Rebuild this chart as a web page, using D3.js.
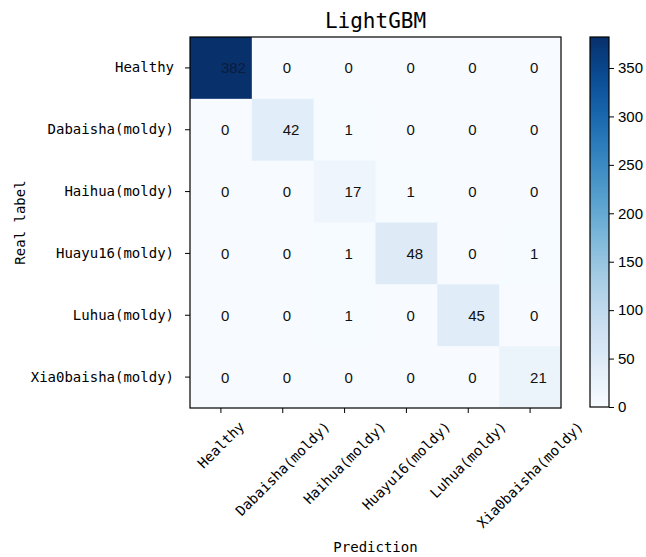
<!DOCTYPE html>
<html>
<head>
<meta charset="utf-8">
<script src="https://cdn.jsdelivr.net/npm/d3@7/dist/d3.min.js"></script>
<style>
  html, body { margin: 0; padding: 0; background: #fff; }
  svg { display: block; }
</style>
</head>
<body>
<svg id="chart" width="646" height="557"></svg>
<script>
// Confusion matrix of the LightGBM classifier
const title = "LightGBM";
const classes = ["Healthy", "Dabaisha(moldy)", "Haihua(moldy)", "Huayu16(moldy)", "Luhua(moldy)", "Xia0baisha(moldy)"];
// rows = real label, columns = prediction
const counts = [
  [382, 0, 0, 0, 0, 0],
  [0, 42, 1, 0, 0, 0],
  [0, 0, 17, 1, 0, 0],
  [0, 0, 1, 48, 0, 1],
  [0, 0, 1, 0, 45, 0],
  [0, 0, 0, 0, 0, 21]
];
const colorTicks = [0, 50, 100, 150, 200, 250, 300, 350];
const xTitle = "Prediction";
const yTitle = "Real label";

const monoFont = "'DejaVu Sans Mono', 'Liberation Mono', monospace";
const sansFont = "'Liberation Sans', Arial, sans-serif";

const svg = d3.select("#chart");
const plot = { left: 190, top: 37, size: 371 };
const bar = { left: 590, width: 19 };

const maxVal = d3.max(counts.flat());
const color = d3.scaleSequential(d3.interpolateBlues).domain([0, maxVal]);

const x = d3.scaleBand().domain(classes).range([plot.left, plot.left + plot.size]);
const y = d3.scaleBand().domain(classes).range([plot.top, plot.top + plot.size]);

// cells
const cells = [];
counts.forEach((row, i) => row.forEach((v, j) => cells.push({ r: classes[i], c: classes[j], v })));

svg.append("g").selectAll("rect").data(cells).join("rect")
  .attr("x", d => x(d.c))
  .attr("y", d => y(d.r))
  .attr("width", x.bandwidth() + 0.5)
  .attr("height", y.bandwidth() + 0.5)
  .attr("fill", d => color(d.v));

// counts, left-aligned at each cell centre
svg.append("g").selectAll("text").data(cells).join("text")
  .attr("x", d => x(d.c) + x.bandwidth() / 2)
  .attr("y", d => y(d.r) + y.bandwidth() / 2)
  .attr("text-anchor", "start")
  .attr("dominant-baseline", "central")
  .attr("font-family", sansFont)
  .attr("font-size", 15)
  .attr("fill", d => d.v > maxVal / 2 ? "#0b1c3d" : "#111")
  .text(d => d.v);

// frame
svg.append("rect")
  .attr("x", plot.left).attr("y", plot.top)
  .attr("width", plot.size).attr("height", plot.size)
  .attr("fill", "none").attr("stroke", "#000").attr("stroke-width", 1.2);

// y axis
const yAxis = svg.append("g")
  .attr("transform", `translate(${plot.left},0)`)
  .call(d3.axisLeft(y).tickSize(5).tickPadding(11));
yAxis.select(".domain").remove();
yAxis.selectAll("text").attr("font-family", monoFont).attr("font-size", 14).attr("fill", "#000");

// x axis with labels rotated 45 degrees, bounding box centred on each tick
const xAxis = svg.append("g")
  .attr("transform", `translate(0,${plot.top + plot.size})`)
  .call(d3.axisBottom(x).tickSize(5).tickFormat(""));
xAxis.select(".domain").remove();

const xl = svg.append("g").selectAll("text").data(classes).join("text")
  .attr("font-family", monoFont)
  .attr("font-size", 14)
  .attr("text-anchor", "middle")
  .attr("dominant-baseline", "central")
  .text(d => d);
xl.each(function (d) {
  const w = this.getComputedTextLength();
  const h = 11;
  const top = plot.top + plot.size + 5 + 7;
  const cy = top + (w + h) / (2 * Math.SQRT2);
  const cx = x(d) + x.bandwidth() / 2;
  d3.select(this).attr("transform", `translate(${cx},${cy}) rotate(-45)`);
});

// titles
svg.append("text")
  .attr("x", plot.left + plot.size / 2).attr("y", 28)
  .attr("text-anchor", "middle")
  .attr("font-family", monoFont).attr("font-size", 21)
  .text(title);

svg.append("text")
  .attr("x", plot.left + plot.size / 2).attr("y", 552)
  .attr("text-anchor", "middle")
  .attr("font-family", monoFont).attr("font-size", 14)
  .text(xTitle);

svg.append("text")
  .attr("transform", `translate(25,${plot.top + plot.size / 2}) rotate(-90)`)
  .attr("text-anchor", "middle")
  .attr("font-family", monoFont).attr("font-size", 14)
  .text(yTitle);

// colour bar
const defs = svg.append("defs");
const grad = defs.append("linearGradient").attr("id", "cbar")
  .attr("x1", 0).attr("y1", 1).attr("x2", 0).attr("y2", 0);
d3.range(0, 1.0001, 0.05).forEach(t => {
  grad.append("stop").attr("offset", t).attr("stop-color", color(t * maxVal));
});
const cbScale = d3.scaleLinear().domain([0, maxVal]).range([plot.top + plot.size - 1, plot.top]);
svg.append("rect")
  .attr("x", bar.left).attr("y", plot.top)
  .attr("width", bar.width).attr("height", plot.size - 1)
  .attr("fill", "url(#cbar)")
  .attr("stroke", "#000").attr("stroke-width", 1.2);
const cAxis = svg.append("g")
  .attr("transform", `translate(${bar.left + bar.width},0)`)
  .call(d3.axisRight(cbScale).tickValues(colorTicks).tickSize(5).tickPadding(4));
cAxis.select(".domain").remove();
cAxis.selectAll("text").attr("font-family", sansFont).attr("font-size", 15).attr("fill", "#000");
</script>
</body>
</html>
